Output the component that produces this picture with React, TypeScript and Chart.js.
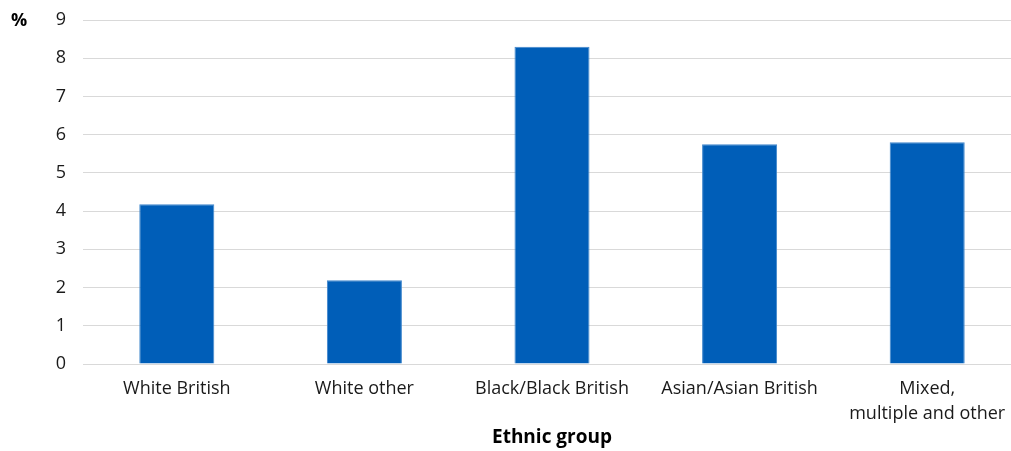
import React, { useEffect, useRef } from "react";
import { Chart, registerables } from "chart.js";

Chart.register(...registerables);

const categories: (string | string[])[] = [
  "White British",
  "White other",
  "Black/Black British",
  "Asian/Asian British",
  ["Mixed,", "multiple and other"],
];
const values = [4.18, 2.19, 8.3, 5.75, 5.8];
const yTicks = [0, 1, 2, 3, 4, 5, 6, 7, 8, 9];
const yUnit = "%";
const xTitle = "Ethnic group";

const FONT = "'Open Sans', sans-serif";

export default function App() {
  const ref = useRef<HTMLCanvasElement>(null);
  useEffect(() => {
    if (!ref.current) return;
    const unitPlugin = {
      id: "unitLabel",
      afterDraw(chart: any) {
        const ctx = chart.ctx;
        ctx.save();
        ctx.font = `bold 18px ${FONT}`;
        ctx.fillStyle = "#000";
        ctx.textAlign = "left";
        ctx.textBaseline = "middle";
        ctx.fillText(yUnit, 11, chart.scales.y.getPixelForValue(9) + 1);
        ctx.restore();
      },
    };
    const chart = new Chart(ref.current, {
      type: "bar",
      data: {
        labels: categories,
        datasets: [
          {
            data: values,
            backgroundColor: "#005EB8",
            borderColor: "#3F86CC",
            borderWidth: 1,
            categoryPercentage: 1,
            barPercentage: 0.4,
          },
        ],
      },
      options: {
        animation: false,
        responsive: false,
        layout: { padding: { top: 20, right: 0, bottom: 0, left: 0 } },
        plugins: { legend: { display: false }, tooltip: { enabled: false } },
        scales: {
          x: {
            grid: { display: false, drawTicks: false },
            border: { display: true, color: "#D9D9D9", width: 1 },
            ticks: {
              color: "#1a1a1a",
              font: { family: FONT, size: 18, lineHeight: 1.42 },
              padding: 12,
              maxRotation: 0,
              autoSkip: false,
            },
            title: {
              display: true,
              text: xTitle,
              color: "#000",
              font: { family: FONT, size: 19, weight: "bold" },
              padding: { top: 0, bottom: 2 },
            },
            afterFit(s: any) {
              s.height = 87;
              s.paddingLeft = 0;
              s.paddingRight = 0;
            },
          },
          y: {
            min: 0,
            max: 9,
            afterBuildTicks(s: any) {
              s.ticks = yTicks.map((v) => ({ value: v }));
            },
            grid: { color: "#D9D9D9", lineWidth: 1, drawTicks: false },
            border: { display: false },
            ticks: {
              color: "#1a1a1a",
              font: { family: FONT, size: 18 },
              padding: 17,
            },
            afterFit(s: any) {
              s.width = 83;
              s.paddingTop = 0;
              s.paddingBottom = 0;
            },
          },
        },
      },
      plugins: [unitPlugin],
    });
    return () => chart.destroy();
  }, []);
  return (
    <div
      style={{
        position: "fixed",
        left: 0,
        top: 0,
        width: 1011,
        height: 451,
        overflow: "hidden",
        background: "#fff",
      }}
    >
      <canvas ref={ref} width={1021} height={451} style={{ width: 1021, height: 451 }} />
    </div>
  );
}
